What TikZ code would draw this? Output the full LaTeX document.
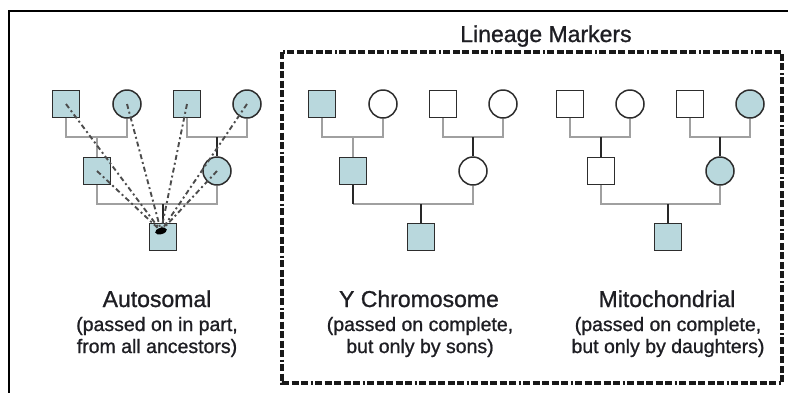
\documentclass[tikz,border=0pt]{standalone}
\usepackage{fontspec}
\setmainfont{Liberation Sans}
\newfontfamily\capfont[FakeBold=1.0]{Liberation Sans}
\definecolor{fillb}{RGB}{185,216,221}
\definecolor{edge}{RGB}{45,45,45}
\definecolor{lgray}{RGB}{160,160,160}
\definecolor{dkline}{RGB}{40,40,40}
\definecolor{txt}{RGB}{30,30,35}
\tikzset{
 male/.style={rectangle, draw=edge, line width=1.8pt, minimum size=27pt, inner sep=0pt},
 female/.style={circle, draw=edge, line width=1.5pt, minimum size=28pt, inner sep=0pt},
 aff/.style={fill=fillb},
 unaff/.style={fill=white},
 gline/.style={draw=lgray, line width=2.6pt},
 dline/.style={draw=dkline, line width=2pt},
 trace/.style={draw=black!70, line width=1.9pt, dash pattern=on 5pt off 3pt on 2pt off 3pt},
 heading/.style={font=\capfont\fontsize{23}{27}\selectfont, anchor=base, text=txt, inner sep=0pt},
 subline/.style={font=\capfont\fontsize{19.5}{22}\selectfont, anchor=base, text=txt, inner sep=0pt},
 boxline/.style={line width=3.4pt, draw=black!90, dash pattern=on 7pt off 2.5pt on 7pt off 2.5pt on 7pt off 2.5pt on 7pt off 2.5pt on 7pt off 2.5pt on 2pt off 2.5pt},
}
\begin{document}
\begin{tikzpicture}[x=1pt,y=-1pt]
\useasboundingbox (0,0) rectangle (788,392);
% outer frame (partly cropped)
\draw[line width=2.4pt, black] (9,394) -- (9,11) -- (790,11);
% lineage markers box
\draw[boxline] (282,52) rectangle (782,383);
\node[heading] (lm) at (546,42) {Lineage Markers};

% ---------- Autosomal ----------
\node[male,aff]   (a1) at (66,104) {};
\node[female,aff] (a2) at (127,104) {};
\node[male,aff]   (a3) at (187,104) {};
\node[female,aff] (a4) at (247,104) {};
\node[male,aff]   (a5) at (97,171) {};
\node[female,aff] (a6) at (217,171) {};
\node[male,aff]   (a7) at (163,237) {};
\coordinate (ab1) at (97,137);
\coordinate (ab2) at (217,137);
\coordinate (ab3) at (163,204);
\draw[gline] (a1.south) |- (ab1) -| (a2.south);
\draw[gline] (ab1) -- (a5.north);
\draw[gline] (a3.south) |- (ab2) -| (a4.south);
\draw[dline] (ab2) -- (a6.north);
\draw[gline] (a5.south) |- (ab3) -| (a6.south);
\draw[dline] (ab3) -- (a7.north);
\coordinate (blob) at (161,231);
\foreach \n in {a1,a2,a3,a4,a5,a6} \draw[trace] (\n.center) -- (blob);
\fill[black, rotate around={15:(blob)}] (blob) ellipse (6 and 3.2);

% ---------- Y chromosome ----------
\node[male,aff]     (y1) at (322,104) {};
\node[female,unaff] (y2) at (383,104) {};
\node[male,unaff]   (y3) at (443,104) {};
\node[female,unaff] (y4) at (503,104) {};
\node[male,aff]     (y5) at (353,171) {};
\node[female,unaff] (y6) at (473,171) {};
\node[male,aff]     (y7) at (421,237) {};
\coordinate (yb1) at (353,137);
\coordinate (yb2) at (473,137);
\coordinate (yb3) at (421,204);
\coordinate (yb4) at (353,204);
\draw[gline] (y1.south) |- (yb1) -| (y2.south);
\draw[gline] (yb1) -- (y5.north);
\draw[gline] (y3.south) |- (yb2) -| (y4.south);
\draw[dline] (yb2) -- (y6.north);
\draw[gline] (yb4) -- (yb3) -| (y6.south);
\draw[dline] (y5.south) -- (yb4);
\draw[dline] (yb3) -- (y7.north);

% ---------- Mitochondrial ----------
\node[male,unaff]   (m1) at (570,104) {};
\node[female,unaff] (m2) at (630,104) {};
\node[male,unaff]   (m3) at (690,104) {};
\node[female,aff]   (m4) at (750,104) {};
\node[male,unaff]   (m5) at (601,171) {};
\node[female,aff]   (m6) at (720,171) {};
\node[male,aff]     (m7) at (668,237) {};
\coordinate (mb1) at (601,137);
\coordinate (mb2) at (720,137);
\coordinate (mb3) at (668,204);
\draw[gline] (m1.south) |- (mb1) -| (m2.south);
\draw[dline] (mb1) -- (m5.north);
\draw[gline] (m3.south) |- (mb2) -| (m4.south);
\draw[dline] (mb2) -- (m6.north);
\draw[gline] (m5.south) |- (mb3) -| (m6.south);
\draw[dline] (mb3) -- (m7.north);

% ---------- captions ----------
\node[heading] (t1) at (157,307) {Autosomal};
\node[subline] (t1a) at (157,331) {(passed on in part,};
\node[subline] (t1b) at (157,353) {from all ancestors)};
\node[heading] (t2) at (419,307) {Y Chromosome};
\node[subline] (t2a) at (420,331) {(passed on complete,};
\node[subline] (t2b) at (420,353) {but only by sons)};
\node[heading] (t3) at (667,307) {Mitochondrial};
\node[subline] (t3a) at (668,331) {(passed on complete,};
\node[subline] (t3b) at (668,353) {but only by daughters)};
\end{tikzpicture}
\end{document}
